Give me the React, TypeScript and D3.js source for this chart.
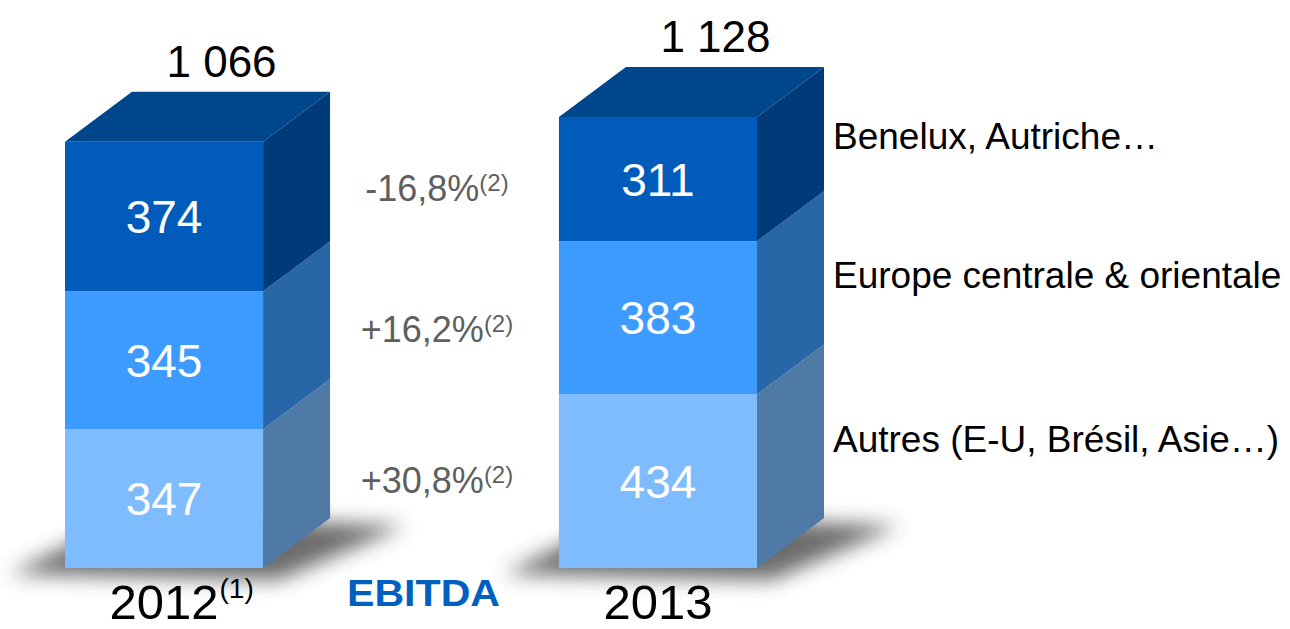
import * as d3 from "d3";

const years = ["2012", "2013"];
const yearNotes = ["(1)", ""];
const regions = ["Autres (E-U, Brésil, Asie…)", "Europe centrale & orientale", "Benelux, Autriche…"];
const values2012 = [347, 345, 374];
const values2013 = [434, 383, 311];
const totals = ["1 066", "1 128"];
const deltas = ["+30,8%", "+16,2%", "-16,8%"];
const deltaNote = "(2)";
const title = "EBITDA";

const frontColors = ["#7fbbff", "#3d9bff", "#005bbb"];
const sideColors = ["#4f7aa6", "#2966a8", "#003a78"];
const topColor = "#00468c";

const W = 1290;
const H = 629;
const depthX = 67;
const depthY = -50;
const font = "'Liberation Sans', Arial, sans-serif";

export default function App() {
  const series = [values2012, values2013];
  const stacked = series.map((vals) => {
    let acc = 0;
    return vals.map((v) => {
      const s = { y0: acc, y1: acc + v, v };
      acc += v;
      return s;
    });
  });
  const maxTotal = d3.max(stacked, (s) => s[s.length - 1].y1) as number;

  const x = d3.scaleBand<string>().domain(years).range([65, 757]).paddingInner(0.599).paddingOuter(0);
  const y = d3.scaleLinear().domain([0, maxTotal]).range([568, 117]);
  const bw = x.bandwidth();

  const poly = (pts: [number, number][]) => d3.line()(pts) + "Z";

  return (
    <svg width={W} height={H} style={{ position: "absolute", left: 0, top: 0, background: "#fff" }} fontFamily={font}>
      <defs>
        <filter id="shadow" x="-50%" y="-100%" width="200%" height="300%">
          <feGaussianBlur stdDeviation="10" />
        </filter>
      </defs>

      {years.map((yr) => {
        const x0 = x(yr) as number;
        const x1 = x0 + bw;
        const yb = y(0);
        return (
          <path
            key={"sh" + yr}
            d={poly([
              [x0 - 55, yb + 6],
              [x1 + 15, yb + 12],
              [x1 + depthX + 75, yb + depthY + 8],
              [x0 + depthX, yb + depthY - 4],
            ])}
            fill="#3a3a3a"
            opacity={0.75}
            filter="url(#shadow)"
          />
        );
      })}

      {years.map((yr, i) => {
        const x0 = x(yr) as number;
        const x1 = x0 + bw;
        const segs = stacked[i];
        const top = y(segs[segs.length - 1].y1);
        return (
          <g key={yr}>
            {segs.map((s, k) => (
              <g key={k}>
                <rect x={x0} y={y(s.y1)} width={bw} height={y(s.y0) - y(s.y1)} fill={frontColors[k]} />
                <path
                  d={poly([
                    [x1, y(s.y0)],
                    [x1 + depthX, y(s.y0) + depthY],
                    [x1 + depthX, y(s.y1) + depthY],
                    [x1, y(s.y1)],
                  ])}
                  fill={sideColors[k]}
                />
                <text
                  x={x0 + bw / 2}
                  y={(y(s.y0) + y(s.y1)) / 2}
                  dy="0.36em"
                  textAnchor="middle"
                  fill="#fff"
                  fontSize={46}
                >
                  {s.v}
                </text>
              </g>
            ))}
            <path
              d={poly([
                [x0, top],
                [x0 + depthX, top + depthY],
                [x1 + depthX, top + depthY],
                [x1, top],
              ])}
              fill={topColor}
            />
            <text x={x0 + bw / 2 + depthX / 2 + 24} y={top + depthY - 15} textAnchor="middle" fontSize={44} fill="#000">
              {totals[i]}
            </text>
            <text x={x0 + bw / 2} y={619} textAnchor="middle" fontSize={49} fill="#000">
              {yr}
            </text>
            {yearNotes[i] && (
              <text x={x0 + bw / 2 + 4 * 0.556 * 49 * 0.5 + 1} y={598} fontSize={28} fill="#000">
                {yearNotes[i]}
              </text>
            )}
          </g>
        );
      })}

      {deltas.map((d, k) => {
        const m1 = (y(stacked[0][k].y0) + y(stacked[0][k].y1)) / 2;
        const m2 = (y(stacked[1][k].y0) + y(stacked[1][k].y1)) / 2;
        return (
          <text key={d} x={437} y={(m1 + m2) / 2 - 10} dy="0.36em" textAnchor="middle" fontSize={36} fill="#5f5f5f">
            {d}
            <tspan fontSize={24} dy={-10}>
              {deltaNote}
            </tspan>
          </text>
        );
      })}

      {regions.map((r, k) => {
        const s = stacked[1][k];
        const xr = (x(years[1]) as number) + bw + depthX + 9;
        return (
          <text key={r} x={xr} y={(y(s.y0) + y(s.y1)) / 2 - 43} dy="0.36em" fontSize={37} fill="#000">
            {r}
          </text>
        );
      })}

      <text x={347} y={606} fontSize={36} fontWeight="bold" fill="#005fbf" textLength={153} lengthAdjust="spacingAndGlyphs">
        {title}
      </text>
    </svg>
  );
}
